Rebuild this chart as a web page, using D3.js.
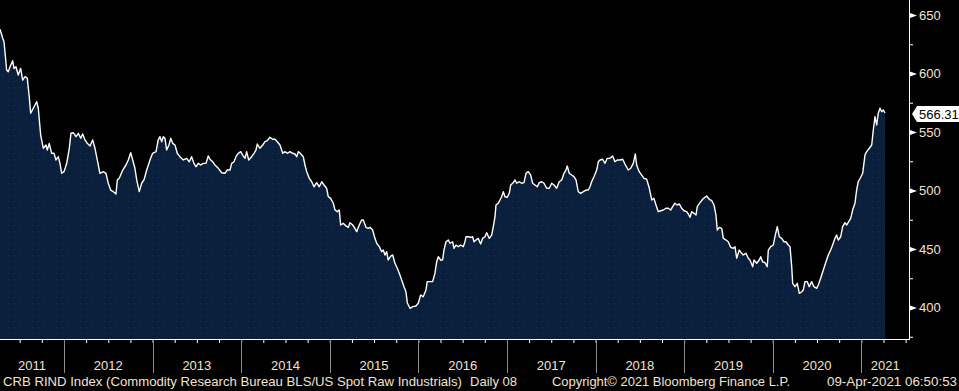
<!DOCTYPE html>
<html>
<head>
<meta charset="utf-8">
<script src="https://cdn.jsdelivr.net/npm/d3@7"></script>
<style>
  body { margin: 0; background: #000; }
  svg { display: block; font-family: "Liberation Sans", Arial, sans-serif; }
</style>
</head>
<body>
<svg id="chart"></svg>
<script>
// CRB RIND index (dates as decimal years)
const dates = [
  2011.278, 2011.308, 2011.323, 2011.334, 2011.353, 2011.371, 2011.391, 2011.421, 2011.436, 2011.458, 2011.484, 2011.511, 2011.534, 2011.560, 2011.586, 2011.608, 2011.624, 2011.654, 2011.692, 2011.710, 2011.737, 2011.767, 2011.797, 2011.812, 2011.834, 2011.861, 2011.887, 2011.910, 2011.936, 2011.955, 2011.974, 2012.000, 2012.031, 2012.060, 2012.079, 2012.105, 2012.136, 2012.162, 2012.189, 2012.211, 2012.237, 2012.263, 2012.294, 2012.324, 2012.350, 2012.376, 2012.406, 2012.444, 2012.474, 2012.500, 2012.527, 2012.557, 2012.587, 2012.602, 2012.624, 2012.663, 2012.700, 2012.726, 2012.753, 2012.776, 2012.801, 2012.821, 2012.850, 2012.877, 2012.903, 2012.934, 2012.971,
  2013.001, 2013.039, 2013.064, 2013.084, 2013.103, 2013.121, 2013.140, 2013.159, 2013.185, 2013.205, 2013.227, 2013.253, 2013.279, 2013.309, 2013.347, 2013.385, 2013.414, 2013.441, 2013.467, 2013.490, 2013.516, 2013.543, 2013.572, 2013.603, 2013.629, 2013.648, 2013.678, 2013.704, 2013.742, 2013.780, 2013.817, 2013.843, 2013.874, 2013.893, 2013.919, 2013.941, 2013.967, 2013.995, 2014.017, 2014.043, 2014.062, 2014.085, 2014.119, 2014.145, 2014.167, 2014.182, 2014.212, 2014.243, 2014.269, 2014.295, 2014.325, 2014.356, 2014.382, 2014.408, 2014.438, 2014.469, 2014.494, 2014.521, 2014.551, 2014.581, 2014.607, 2014.627, 2014.645, 2014.664,
  2014.701, 2014.720, 2014.740, 2014.769, 2014.796, 2014.822, 2014.852, 2014.882, 2014.909, 2014.935, 2014.965, 2014.983, 2015.010, 2015.040, 2015.059, 2015.085, 2015.107, 2015.123, 2015.153, 2015.183, 2015.209, 2015.228, 2015.259, 2015.277, 2015.304, 2015.333, 2015.360, 2015.378, 2015.409, 2015.435, 2015.454, 2015.484, 2015.510, 2015.530, 2015.559, 2015.586, 2015.604, 2015.623, 2015.642, 2015.660, 2015.688, 2015.710, 2015.736, 2015.762, 2015.785, 2015.812, 2015.838, 2015.860, 2015.875, 2015.905, 2015.936, 2015.973, 2015.999, 2016.026, 2016.055, 2016.086, 2016.100, 2016.131, 2016.161, 2016.187, 2016.207, 2016.225, 2016.252, 2016.274, 2016.289, 2016.312, 2016.338, 2016.357,
  2016.387, 2016.402, 2016.425, 2016.451, 2016.478, 2016.507, 2016.526, 2016.538, 2016.564, 2016.591, 2016.613, 2016.628, 2016.650, 2016.676, 2016.703, 2016.726, 2016.752, 2016.771, 2016.801, 2016.828, 2016.846, 2016.865, 2016.876, 2016.902, 2016.921, 2016.940, 2016.959, 2016.978, 2017.004, 2017.026, 2017.042, 2017.071, 2017.091, 2017.110, 2017.139, 2017.166, 2017.192, 2017.215, 2017.241, 2017.268, 2017.290, 2017.316, 2017.342, 2017.365, 2017.392, 2017.418, 2017.448, 2017.478, 2017.505, 2017.531, 2017.561, 2017.590, 2017.618, 2017.644, 2017.666, 2017.681, 2017.703, 2017.730, 2017.756, 2017.779, 2017.805, 2017.832, 2017.862, 2017.892, 2017.918, 2017.937, 2017.956, 2017.982, 2018.013, 2018.031, 2018.050,
  2018.080, 2018.106, 2018.132, 2018.163, 2018.193, 2018.219, 2018.245, 2018.276, 2018.306, 2018.332, 2018.369, 2018.397, 2018.426, 2018.449, 2018.464, 2018.493, 2018.521, 2018.547, 2018.577, 2018.607, 2018.634, 2018.659, 2018.682, 2018.708, 2018.735, 2018.765, 2018.795, 2018.821, 2018.848, 2018.870, 2018.896, 2018.922, 2018.945, 2018.972, 2018.998, 2019.029, 2019.047, 2019.066, 2019.085, 2019.111, 2019.134, 2019.148, 2019.179, 2019.209, 2019.235, 2019.254, 2019.284, 2019.311, 2019.337, 2019.359, 2019.374, 2019.397, 2019.424, 2019.442, 2019.472, 2019.498, 2019.525, 2019.554, 2019.574, 2019.593, 2019.622, 2019.649, 2019.667, 2019.698, 2019.724, 2019.743,
  2019.774, 2019.788, 2019.819, 2019.848, 2019.864, 2019.886, 2019.912, 2019.938, 2019.950, 2019.977, 2020.006, 2020.025, 2020.051, 2020.074, 2020.101, 2020.127, 2020.149, 2020.175, 2020.195, 2020.214, 2020.225, 2020.251, 2020.277, 2020.300, 2020.327, 2020.345, 2020.364, 2020.390, 2020.412, 2020.439, 2020.465, 2020.496, 2020.514, 2020.541, 2020.571, 2020.601, 2020.627, 2020.654, 2020.676, 2020.702, 2020.721, 2020.740, 2020.767, 2020.789, 2020.815, 2020.834, 2020.857, 2020.880, 2020.902, 2020.928, 2020.947, 2020.965, 2020.993, 2021.015, 2021.041, 2021.060, 2021.090, 2021.117, 2021.135, 2021.154, 2021.173, 2021.191, 2021.211, 2021.230, 2021.248, 2021.267
];

const values = [
  637.8, 630.3, 627.2, 618.6, 603.0, 601.5, 605.8, 610.9, 604.4, 605.8, 598.7, 604.4, 594.4, 597.3, 595.9, 580.2, 566.0, 570.3, 575.9, 570.3, 547.4, 536.1, 538.9, 534.6, 540.3, 531.8, 531.8, 526.1, 528.9, 523.2, 514.7, 516.1, 523.2, 536.1, 548.9, 549.4, 546.0, 548.9, 544.6, 548.3, 543.2, 540.3, 538.0, 543.2, 536.1, 526.1, 514.7, 516.1, 514.7, 506.2, 500.4, 499.0, 497.0, 509.0, 510.4, 517.5, 521.8, 526.1, 532.3, 526.1, 519.0, 509.0, 499.0, 506.2, 509.0, 517.5, 526.1,
  531.8, 533.2, 543.2, 546.0, 541.7, 546.0, 544.6, 534.6, 538.9, 544.6, 540.3, 538.9, 531.8, 528.9, 526.1, 527.5, 524.6, 528.9, 523.2, 520.3, 523.2, 521.8, 523.2, 523.2, 529.5, 526.7, 524.6, 521.8, 519.0, 515.2, 514.7, 517.5, 517.5, 523.2, 524.6, 528.9, 531.8, 533.2, 530.3, 527.5, 533.2, 526.1, 528.9, 531.8, 534.6, 539.7, 536.1, 538.9, 541.7, 542.6, 545.5, 543.8, 543.8, 541.7, 538.9, 531.8, 533.2, 531.8, 533.2, 531.8, 531.2, 528.9, 533.2, 532.0,
  528.9, 521.8, 516.1, 510.4, 507.5, 503.2, 506.7, 503.2, 507.5, 504.7, 501.9, 494.7, 493.3, 489.1, 483.3, 481.9, 483.3, 470.5, 472.0, 469.7, 468.5, 472.5, 470.5, 468.5, 464.8, 470.5, 474.8, 474.8, 468.5, 467.7, 468.5, 466.2, 459.1, 454.9, 452.0, 447.7, 449.1, 444.9, 447.7, 440.6, 444.0, 444.9, 437.8, 433.5, 429.2, 423.5, 417.8, 413.5, 404.1, 399.3, 400.7, 401.3, 403.6, 410.7, 409.2, 415.0, 422.1, 422.1, 422.1, 429.2, 439.1, 443.4, 440.6, 440.6, 449.1, 456.2, 457.7, 454.9,
  456.2, 450.6, 453.4, 452.0, 453.4, 452.0, 456.2, 460.5, 460.5, 460.0, 460.5, 456.2, 457.7, 459.1, 454.3, 459.1, 460.5, 463.9, 459.1, 462.0, 469.1, 477.6, 487.6, 489.1, 491.9, 494.7, 499.0, 494.7, 494.2, 497.6, 504.7, 506.7, 509.0, 506.2, 507.5, 506.2, 506.7, 514.7, 516.1, 513.2, 506.2, 504.7, 503.2, 506.7, 507.5, 506.2, 501.9, 501.9, 506.2, 504.7, 501.9, 507.5, 509.0, 514.7, 517.5, 520.9, 514.7, 513.2, 511.8, 509.0, 499.0, 497.6, 499.0, 500.4, 500.4, 503.2, 507.5, 511.8, 517.5, 524.6, 526.1,
  526.7, 523.2, 527.5, 527.5, 529.5, 524.6, 526.1, 526.1, 526.7, 522.6, 517.5, 519.0, 523.2, 531.2, 521.8, 516.1, 513.2, 510.4, 509.6, 501.9, 491.9, 493.3, 487.6, 481.9, 482.7, 483.3, 484.8, 484.8, 483.3, 486.2, 489.1, 487.6, 488.5, 484.8, 482.7, 481.9, 479.9, 477.1, 481.9, 480.5, 479.1, 486.2, 489.6, 492.5, 494.2, 495.3, 492.5, 491.3, 487.6, 479.1, 466.2, 468.5, 467.7, 459.1, 457.7, 456.2, 451.5, 450.6, 452.0, 442.1, 449.1, 446.3, 444.9, 446.3, 442.1, 440.6,
  434.9, 440.6, 437.8, 440.6, 443.4, 439.1, 438.3, 434.9, 449.1, 452.0, 453.4, 460.5, 469.1, 460.5, 459.1, 456.2, 456.2, 453.4, 452.0, 434.9, 420.7, 417.8, 420.7, 412.1, 413.5, 415.0, 422.1, 422.1, 417.8, 422.1, 417.8, 416.4, 419.2, 425.0, 432.1, 439.1, 444.9, 449.1, 453.4, 459.1, 462.0, 457.7, 460.5, 469.1, 472.5, 470.5, 473.3, 476.2, 483.3, 489.1, 500.4, 507.5, 511.3, 514.7, 530.3, 533.2, 536.1, 538.9, 551.7, 563.1, 556.0, 566.0, 570.3, 567.4, 568.8, 566.31
];

const yTicks = [400, 450, 500, 550, 600, 650];
const yMinorTicks = [375, 425, 475, 525, 575, 625];
const years = [2011, 2012, 2013, 2014, 2015, 2016, 2017, 2018, 2019, 2020, 2021];
const footerTexts = [
  'CRB RIND Index (Commodity Research Bureau BLS/US Spot Raw Industrials)',
  'Daily 08',
  'Copyright\u00a9 2021 Bloomberg Finance L.P.',
  '09-Apr-2021 06:50:53'
];

class IndexChart {

  constructor(_config, _data) {
    this.config = {
      parentElement: _config.parentElement,
      containerWidth: _config.containerWidth || 959,
      containerHeight: _config.containerHeight || 391,
      axisX: 909,       // right value axis
      axisY: 339,       // bottom time axis
      dataRight: 885,
      labelColor: '#f4e2cc',
      // footer pieces: [x, width]
      footerPos: [[3, 459], [470, 47], [552, 238], [827, 130]]
    };
    this.data = _data;
    this.initVis();
  }

  initVis() {
    let vis = this;
    const cfg = vis.config;

    vis.svg = d3.select(cfg.parentElement)
        .attr('width', cfg.containerWidth)
        .attr('height', cfg.containerHeight);

    vis.svg.append('rect')
        .attr('width', cfg.containerWidth)
        .attr('height', cfg.containerHeight)
        .attr('fill', '#000');

    // dotted navy fill like the terminal
    const pat = vis.svg.append('defs').append('pattern')
        .attr('id', 'dots')
        .attr('width', 6).attr('height', 6)
        .attr('patternUnits', 'userSpaceOnUse');
    pat.append('rect').attr('width', 6).attr('height', 6).attr('fill', '#0a1f3c');
    pat.append('rect').attr('x', 2).attr('y', 3).attr('width', 1).attr('height', 1).attr('fill', '#16305a');

    vis.xScale = d3.scaleLinear()
        .domain([dates[0], dates[dates.length - 1]])
        .range([0, cfg.dataRight]);

    vis.yScale = d3.scaleLinear()
        .domain([400, 650])
        .range([307.5, 15]);

    vis.chart = vis.svg.append('g');
    vis.updateVis();
  }

  updateVis() {
    let vis = this;
    const cfg = vis.config;
    const x = vis.xScale, y = vis.yScale;

    const area = d3.area()
        .x(d => x(d.date))
        .y0(cfg.axisY)
        .y1(d => y(d.value));

    const line = d3.line()
        .x(d => x(d.date))
        .y(d => y(d.value));

    vis.chart.append('path')
        .datum(vis.data)
        .attr('d', area)
        .attr('fill', 'url(#dots)');

    vis.chart.append('path')
        .datum(vis.data)
        .attr('d', line)
        .attr('fill', 'none')
        .attr('stroke', '#fff')
        .attr('stroke-width', 1.4)
        .attr('stroke-linejoin', 'round');

    // bottom axis: quarterly ticks, year separators and labels
    const quarters = d3.range(years[0], years[years.length - 1] + 1, 0.25)
        .filter(q => x(q) >= 0 && x(q) <= cfg.axisX);

    vis.xAxis = d3.axisBottom(x)
        .tickValues(quarters)
        .tickSize(4)
        .tickFormat('');

    vis.xAxisG = vis.svg.append('g')
        .attr('transform', `translate(0,${cfg.axisY})`)
        .call(vis.xAxis)
        .call(g => g.select('.domain').remove());
    vis.xAxisG.selectAll('.tick line').attr('stroke', '#fff');

    vis.svg.selectAll('.year-sep')
        .data(years.filter(yr => x(yr) > 0))
      .join('line')
        .attr('class', 'year-sep')
        .attr('x1', d => Math.round(x(d)) + 0.5)
        .attr('x2', d => Math.round(x(d)) + 0.5)
        .attr('y1', cfg.axisY)
        .attr('y2', cfg.axisY + 34)
        .attr('stroke', '#8a8a8a');

    vis.svg.selectAll('.year-label')
        .data(years)
      .join('text')
        .attr('class', 'year-label')
        .attr('x', d => (Math.max(x(d), 0) + Math.min(x(d + 1), cfg.axisX)) / 2)
        .attr('y', cfg.axisY + 31)
        .attr('text-anchor', 'middle')
        .attr('font-size', 13)
        .attr('fill', cfg.labelColor)
        .text(d => d);

    vis.svg.append('line')
        .attr('x1', 0).attr('x2', cfg.axisX + 1)
        .attr('y1', cfg.axisY + 0.5).attr('y2', cfg.axisY + 0.5)
        .attr('stroke', '#fff');

    // right value axis
    vis.svg.append('line')
        .attr('x1', cfg.axisX + 0.5).attr('x2', cfg.axisX + 0.5)
        .attr('y1', 0).attr('y2', cfg.axisY + 1)
        .attr('stroke', '#fff');

    vis.yMinorAxis = d3.axisRight(y)
        .tickValues(yMinorTicks)
        .tickSize(4)
        .tickFormat('');

    vis.svg.append('g')
        .attr('transform', `translate(${cfg.axisX},0)`)
        .call(vis.yMinorAxis)
        .call(g => g.select('.domain').remove())
        .selectAll('.tick line').attr('stroke', '#fff');

    vis.yAxis = d3.axisRight(y)
        .tickValues(yTicks)
        .tickSize(0)
        .tickPadding(10)
        .tickFormat(d3.format('d'));

    vis.yAxisG = vis.svg.append('g')
        .attr('transform', `translate(${cfg.axisX},0)`)
        .call(vis.yAxis)
        .call(g => g.select('.domain').remove())
        .attr('font-size', 13)
        .attr('font-family', '"Liberation Sans", Arial, sans-serif');
    vis.yAxisG.selectAll('.tick text').attr('fill', cfg.labelColor);
    vis.yAxisG.selectAll('.tick').append('path')
        .attr('d', 'M1,-2.5L8,0L1,2.5Z')
        .attr('fill', '#fff');

    // last value tag
    const last = vis.data[vis.data.length - 1];
    const ly = Math.round(y(last.value)) + 1;
    const tag = vis.svg.append('g').attr('transform', `translate(${cfg.axisX},${ly})`);
    tag.append('path')
        .attr('d', 'M3,0L8,-8L50,-8L50,8L8,8Z')
        .attr('fill', '#fff');
    tag.append('text')
        .attr('x', 10)
        .attr('y', 5)
        .attr('font-size', 13)
        .attr('fill', '#000')
        .text(d3.format('.2f')(last.value));

    // footer line
    vis.svg.selectAll('.footer')
        .data(footerTexts)
      .join('text')
        .attr('class', 'footer')
        .attr('x', (d, i) => cfg.footerPos[i][0])
        .attr('y', 386)
        .attr('font-size', 13)
        .attr('fill', cfg.labelColor)
        .attr('textLength', (d, i) => cfg.footerPos[i][1])
        .attr('lengthAdjust', 'spacingAndGlyphs')
        .text(d => d);
  }
}

const series = dates.map((d, i) => ({ date: d, value: values[i] }));
new IndexChart({ parentElement: '#chart' }, series);
</script>
</body>
</html>
